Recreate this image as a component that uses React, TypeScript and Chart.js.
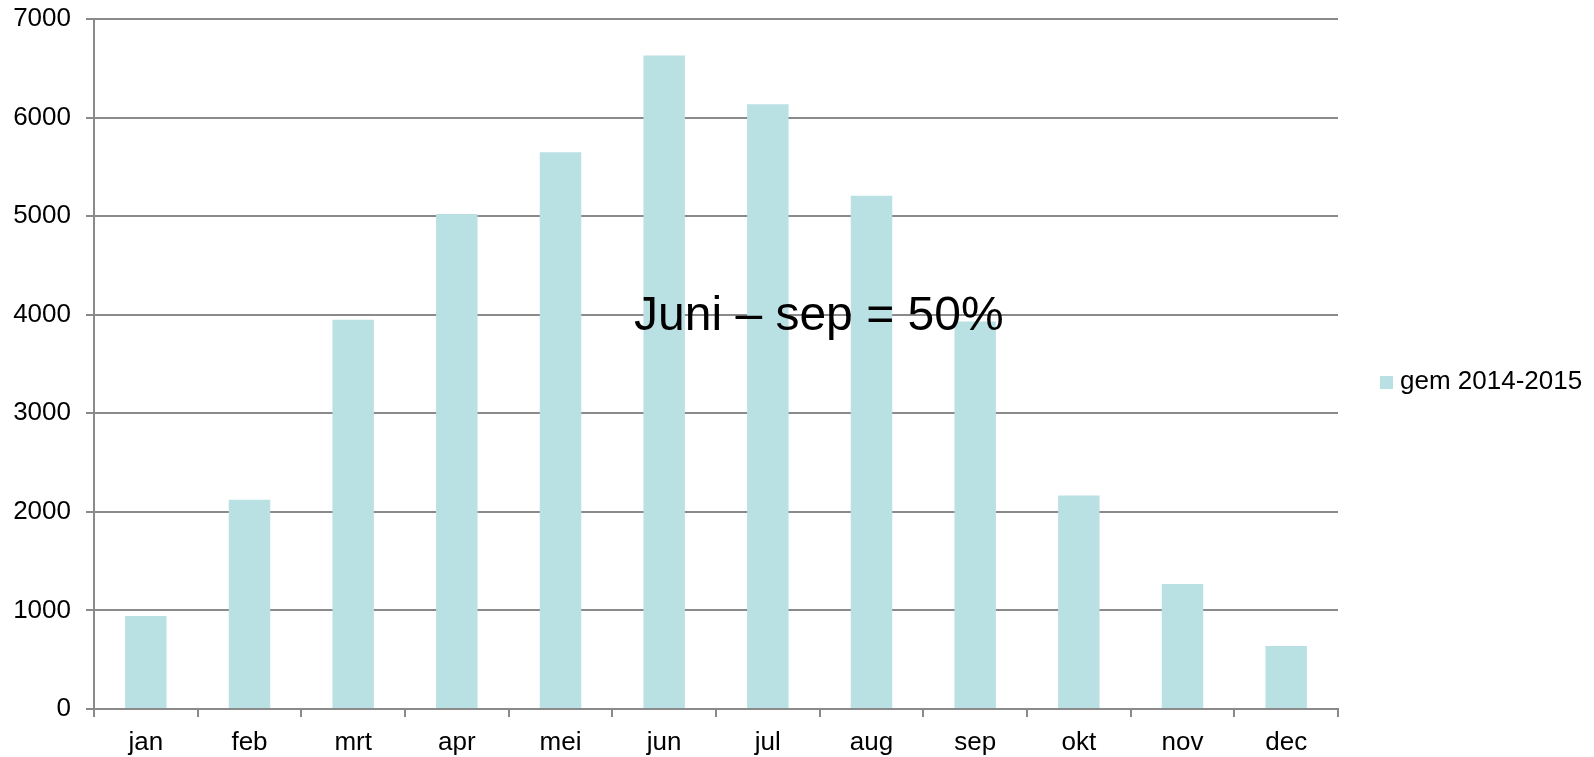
import React, { useEffect, useRef } from "react";
import { Chart, registerables } from "chart.js";

Chart.register(...registerables);

const categories = ["jan", "feb", "mrt", "apr", "mei", "jun", "jul", "aug", "sep", "okt", "nov", "dec"];
const seriesName = "gem 2014-2015";
const seriesValues = [944, 2124, 3948, 5021, 5649, 6629, 6134, 5206, 3932, 2165, 1268, 640];
const annotationText = "Juni – sep = 50%";
const yTickMin = 0;
const yTickMax = 7000;
const yTickStep = 1000;

const FONT = "'Liberation Sans', Arial, sans-serif";
const BAR_COLOR = "#b9e0e3";
const GRID_COLOR = "#8a8a8a";

const overlayPlugin = {
  id: "overlay",
  afterDraw(chart: any) {
    const ctx = chart.ctx;
    ctx.save();
    // annotation
    ctx.fillStyle = "#000";
    ctx.font = `48px ${FONT}`;
    ctx.textAlign = "left";
    ctx.textBaseline = "alphabetic";
    ctx.fillText(annotationText, 634, 330);
    // legend
    ctx.fillStyle = BAR_COLOR;
    ctx.fillRect(1380, 376, 13, 13);
    ctx.fillStyle = "#000";
    ctx.font = `26px ${FONT}`;
    ctx.textBaseline = "alphabetic";
    ctx.fillText(seriesName, 1400, 389);
    ctx.restore();
  },
};

export default function App() {
  const ref = useRef<HTMLCanvasElement>(null);
  useEffect(() => {
    if (!ref.current) return;
    const chart = new Chart(ref.current, {
      type: "bar",
      data: {
        labels: categories,
        datasets: [
          {
            label: seriesName,
            data: seriesValues,
            backgroundColor: BAR_COLOR,
            borderWidth: 0,
            barPercentage: 0.4,
            categoryPercentage: 1.0,
          },
        ],
      },
      options: {
        responsive: false,
        animation: false,
        layout: { padding: { left: 0, top: 19, right: 256, bottom: 0 } },
        plugins: {
          legend: { display: false },
          tooltip: { enabled: false },
          title: { display: false },
        },
        scales: {
          x: {
            grid: {
              offset: true,
              drawOnChartArea: false,
              drawTicks: true,
              tickLength: 8,
              color: GRID_COLOR,
              lineWidth: 2,
            },
            border: { display: true, color: GRID_COLOR, width: 2 },
            ticks: {
              color: "#000",
              font: { family: FONT, size: 26 },
              padding: 10,
              maxRotation: 0,
              autoSkip: false,
            },
            afterFit(scale: any) {
              scale.height = 48;
              scale.paddingLeft = 0;
              scale.paddingRight = 0;
            },
          },
          y: {
            min: yTickMin,
            max: yTickMax,
            grid: {
              color: GRID_COLOR,
              lineWidth: 2,
              tickLength: 8,
              drawTicks: true,
            },
            border: { display: true, color: GRID_COLOR, width: 2 },
            ticks: {
              stepSize: yTickStep,
              color: "#000",
              font: { family: FONT, size: 26 },
              padding: 15,
              callback: (v: any) => String(v),
            },
            afterFit(scale: any) {
              scale.width = 94;
              scale.paddingTop = 0;
              scale.paddingBottom = 0;
            },
          },
        },
      },
      plugins: [overlayPlugin],
    });
    return () => chart.destroy();
  }, []);
  return (
    <div style={{ position: "fixed", left: 0, top: 0, width: 1594, height: 757, background: "#fff" }}>
      <canvas ref={ref} width={1594} height={757} style={{ display: "block" }} />
    </div>
  );
}
